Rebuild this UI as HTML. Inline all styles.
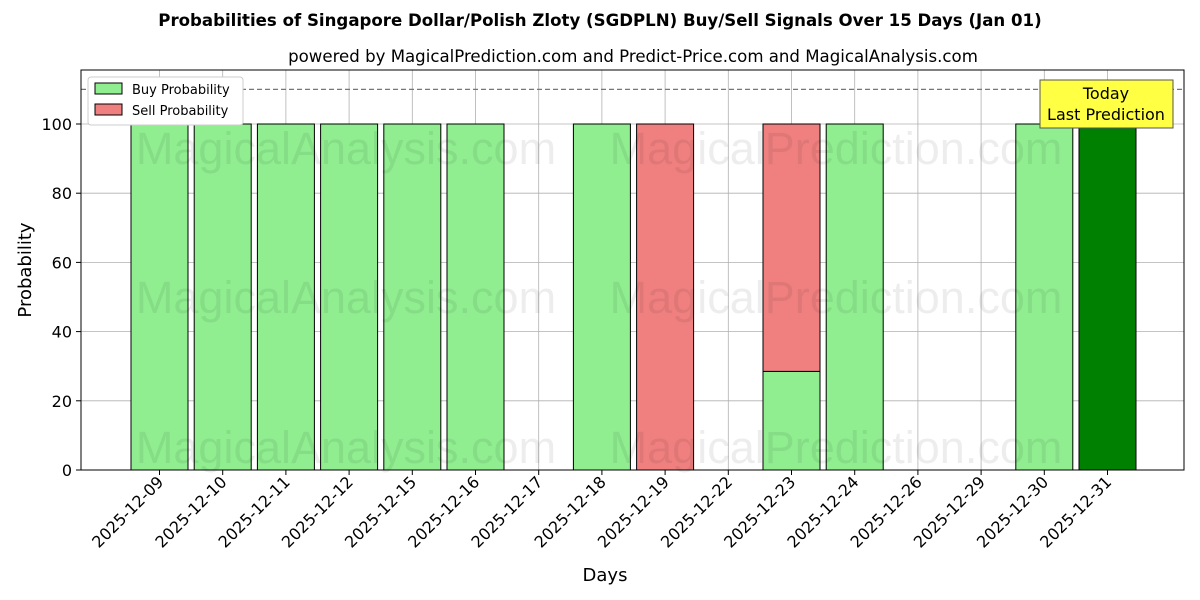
<!DOCTYPE html>
<html><head><meta charset="utf-8"><style>
body{margin:0;background:#fff;}
svg{display:block;font-family:"DejaVu Sans","Liberation Sans",sans-serif;}
</style></head><body>
<svg id="chart" width="1200" height="600">
<text x="600" y="26" text-anchor="middle" font-size="16.6" font-weight="bold">Probabilities of Singapore Dollar/Polish Zloty (SGDPLN) Buy/Sell Signals Over 15 Days (Jan 01)</text>
<text x="633" y="62" text-anchor="middle" font-size="16.6">powered by MagicalPrediction.com and Predict-Price.com and MagicalAnalysis.com</text>
<g id="grid"></g>
<g id="bars"></g>
<g id="wm" fill="#000" fill-opacity="0.07" font-size="45" font-family="Liberation Sans, sans-serif">
<text x="346" y="164" text-anchor="middle">MagicalAnalysis.com</text>
<text x="836" y="164" text-anchor="middle">MagicalPrediction.com</text>
<text x="346" y="313" text-anchor="middle">MagicalAnalysis.com</text>
<text x="836" y="313" text-anchor="middle">MagicalPrediction.com</text>
<text x="346" y="463" text-anchor="middle">MagicalAnalysis.com</text>
<text x="836" y="463" text-anchor="middle">MagicalPrediction.com</text>
</g>
<g id="axes"></g>
<rect x="81" y="70" width="1103" height="400" fill="none" stroke="#000" stroke-width="1"/>
<g>
<rect x="88" y="77" width="155" height="48" fill="#fff" stroke="#ccc" rx="3"/>
<rect x="95" y="83" width="27" height="11" fill="#90ee90" stroke="#000"/>
<text x="132" y="94" font-size="13">Buy Probability</text>
<rect x="95" y="104" width="27" height="11" fill="#f08080" stroke="#000"/>
<text x="132" y="115" font-size="13">Sell Probability</text>
</g>
<g>
<rect x="1040" y="80" width="133" height="48" fill="#ffff44" stroke="#555"/>
<text x="1106" y="99" text-anchor="middle" font-size="16">Today</text>
<text x="1106" y="120" text-anchor="middle" font-size="16">Last Prediction</text>
</g>
<text x="605" y="581" text-anchor="middle" font-size="18">Days</text>
<text transform="translate(31,270) rotate(-90)" text-anchor="middle" font-size="18">Probability</text>
</svg>
<script>
const categories=["2025-12-09","2025-12-10","2025-12-11","2025-12-12","2025-12-15","2025-12-16","2025-12-17","2025-12-18","2025-12-19","2025-12-22","2025-12-23","2025-12-24","2025-12-26","2025-12-29","2025-12-30","2025-12-31"];
const buyValues=[100,100,100,100,100,100,0,100,0,0,28.5,100,0,0,100,100];
const sellValues=[0,0,0,0,0,0,0,0,100,0,71.5,0,0,0,0,0];
const yTicks=[0,20,40,60,80,100];
const thresholdValue=110;
const NS="http://www.w3.org/2000/svg";
const step=63.2, x0=159.5;
function xs(i){return x0+i*step;}
function ys(v){return 470-v*3.46;}
function mk(tag,attrs,parent){const e=document.createElementNS(NS,tag);for(const k in attrs)e.setAttribute(k,attrs[k]);parent.appendChild(e);return e;}
const grid=document.getElementById('grid'),bars=document.getElementById('bars'),axes=document.getElementById('axes');
yTicks.forEach(t=>{
 const l=mk('line',{x1:81,x2:1184,y1:ys(t),y2:ys(t),stroke:'#b0b0b0','stroke-width':0.8},grid);
 
 
 mk('line',{x1:76,x2:81,y1:ys(t),y2:ys(t),stroke:'#000'},axes);
 const tx=mk('text',{x:72,y:ys(t)+6,'text-anchor':'end','font-size':16},axes);
 tx.textContent=t;
 
 
});
categories.forEach((c,i)=>{
 const x=xs(i);
 const l=mk('line',{x1:x,x2:x,y1:70,y2:470,stroke:'#b0b0b0','stroke-width':0.8},grid);
 
 
 mk('line',{x1:x,x2:x,y1:470,y2:475,stroke:'#000'},axes);
 const tx=mk('text',{transform:`translate(${x+5},${483}) rotate(-45)`,'text-anchor':'end','font-size':16},axes);
 tx.textContent=c;
 
 
 const w=57;
 const last=i===categories.length-1;
 if(buyValues[i]>0){
  const r=mk('rect',{x:x-w/2,y:ys(buyValues[i]),width:w,height:ys(0)-ys(buyValues[i]),fill:last?'#008000':'#90ee90',stroke:'#000'},bars);
  
  
 }
 if(sellValues[i]>0){
  const b=ys(buyValues[i]),t=ys(buyValues[i]+sellValues[i]);
  const r=mk('rect',{x:x-w/2,y:t,width:w,height:b-t,fill:'#f08080',stroke:'#000'},bars);
  
  
 }
});
const th=mk('line',{x1:81,x2:1184,y1:ys(thresholdValue),y2:ys(thresholdValue),stroke:'#777','stroke-dasharray':'5,3','stroke-width':1.2},bars);


</script>
</body></html>
